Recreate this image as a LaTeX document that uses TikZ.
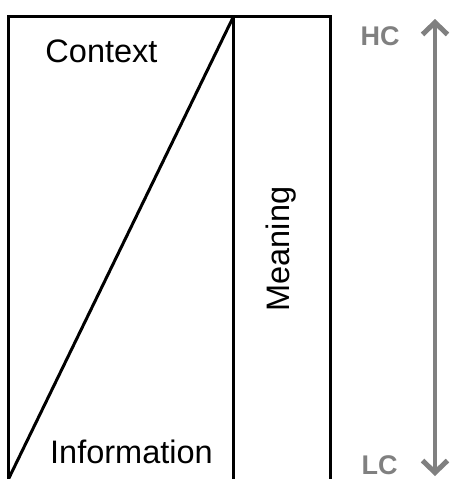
\documentclass[tikz,border=0pt]{standalone}
\usepackage{fontspec}
\setmainfont{Liberation Sans}
\usetikzlibrary{arrows.meta}
\definecolor{scalegray}{HTML}{808080}
\tikzset{
  frameline/.style={line width=3pt, line cap=rect},
  lbl/.style={font=\fontsize{32.5}{38}\selectfont, inner sep=0pt, anchor=base},
  scalelbl/.style={font=\fontsize{27}{32}\selectfont\bfseries, text=scalegray, inner sep=0pt, anchor=base},
  scalearrow/.style={draw=scalegray, line width=4pt, {Straight Barb[length=12pt,width=25pt,line width=5pt]}-{Straight Barb[length=12pt,width=25pt,line width=5pt]}}
}
\begin{document}
\begin{tikzpicture}[x=1pt,y=-1pt]
\useasboundingbox (0,0) rectangle (451,479);
\begin{scope}
\clip (0,0) rectangle (451,479);
\coordinate (tl) at (8.5,16.5);
\coordinate (tm) at (233.5,16.5);
\coordinate (tr) at (330,16.5);
\coordinate (bl) at (8.5,485);
\coordinate (bm) at (233.5,485);
\coordinate (br) at (330,485);
\coordinate (diagend) at (8.5,479);
\draw[frameline] (bl) -- (tl) -- (tr) -- (br);
\draw[frameline] (tm) -- (bm);
\draw[line width=3pt] (tm) -- (diagend);
\end{scope}
\node[lbl] (context) at (101.5,62) {Context};
\node[lbl] (information) at (131.5,463) {Information};
\node[font=\fontsize{32.5}{38}\selectfont, inner sep=0pt, rotate=90] (meaning) at (281,249) {Meaning};
\node[scalelbl] (hc) at (380,45) {HC};
\node[scalelbl] (lc) at (379.5,474) {LC};
\coordinate (atop) at (435,19);
\coordinate (abot) at (435,476);
\draw[scalearrow] (abot) -- (atop);
\end{tikzpicture}
\end{document}
